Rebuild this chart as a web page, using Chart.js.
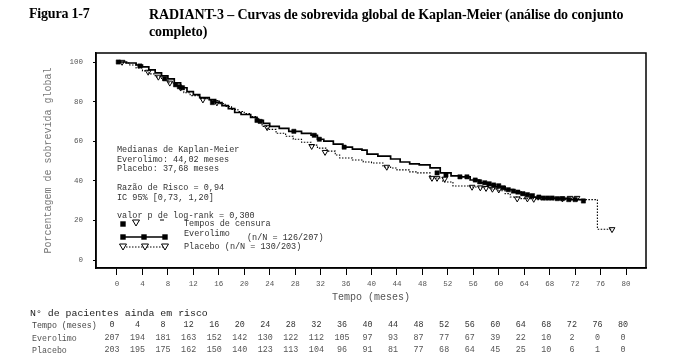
<!DOCTYPE html>
<html><head><meta charset="utf-8">
<script src="https://cdn.jsdelivr.net/npm/chart.js@4"></script>
<style>
body{margin:0;background:#fff;}
#wrap{position:relative;width:676px;height:364px;overflow:hidden;}
#c{position:absolute;left:0;top:0;}
.t{position:absolute;white-space:nowrap;}
#fig{left:29px;top:6px;font:bold 14px "Liberation Serif";color:#000;letter-spacing:-0.2px;}
#ttl{left:149px;top:6px;font:bold 14px "Liberation Serif";color:#000;line-height:17px;letter-spacing:-0.1px;}
.mono{font-family:"Liberation Mono",monospace;}
</style></head>
<body><div id="wrap">
<canvas id="c" width="676" height="364"></canvas>
<div class="t" id="fig">Figura 1-7</div>
<div class="t" id="ttl">RADIANT-3 – Curvas de sobrevida global de Kaplan-Meier (análise do conjunto<br>completo)</div>
</div>
<script>
// ---- data ----
const xTicks = [0,4,8,12,16,20,24,28,32,36,40,44,48,52,56,60,64,68,72,76,80];
const yTicks = [0,20,40,60,80,100];
const evoT = [0,1.5,3,4,5,6,7,8,9,10,11,12,13,14.5,15.5,16.5,17.5,18.5,19.5,21,22,23,24,25.5,27,29,30.5,31.5,32.5,34,35.5,37,38.5,39.3,41,43,44.5,46,47.5,49.2,50.8,52.5,54,55.5,57,58.2,59.5,61,62.3,63.5,65,67,69,71,73.5];
const evoS = [100,99.5,98.5,97.5,96,94.5,93,91.5,89.5,87,85,83.5,82,81,79.5,78,76.5,74.5,73.5,72,70.5,69,67.5,66.5,65,64,63,61,60,58.5,57,56,55.5,53.5,52.5,51,49.5,48.5,48,46.5,44,42.5,42,40.4,39,37.9,37,35.5,34.3,33,31.8,31.3,31,30.5,29.8];
const plaT = [0,1,2,3,4,5,6,7,8,9,10,10.5,11.5,13,14.5,16,17,18,19,20,21,22,22.8,23.6,25,26.5,27.7,29,30.5,31.5,33,34.3,35,37,38.7,40,41.8,43,44,46,47.2,49.2,51.2,52.8,55.5,58.6,60,61,61.8,63.5,66,75.5,77.8];
const plaS = [100,99.5,98.5,97,95.5,94,92.5,91,89.5,88,86.5,84.5,83,81.5,80.5,79,77.5,76,75,74,72.5,70,67.5,66,64,62.5,61,59.5,58,56.5,55,53,51.5,50.5,49.5,49,47,46.5,45.5,44.5,44,41.4,39.4,37.4,36.9,35.9,35,33.5,31.8,31,30.5,15.5,15.5];
const evoCensT = [0.2,3.6,7.5,9.2,9.8,10.3,15,22,22.5,27.8,31,31.8,35.7,50.3,51.7,53.9,55,56.3,57,57.8,58.5,59.2,60,60.7,61.5,62.3,63,63.8,64.5,65.3,66.3,67,67.7,68.4,69.2,70,71,72,73.3];
const evoCensS = [100,98,91.5,88.5,87.5,87,79.5,70.5,70,65,63,61,57,44,43,42,42,40.4,39.5,39,38.5,37.9,37.5,36.5,35.5,34.8,34.3,33.5,33,32.5,31.8,31.3,31.3,31.3,31,31,30.5,30.5,29.8];
const plaCensT = [0.8,4.9,6.5,8.3,10,13.5,15.7,23.6,30.6,32.7,42.4,49.5,50.3,51.5,55.8,57.1,58,59,60,62.9,64.5,65.5,70,71.2,72.3,77.8];
const plaCensS = [100,95,92.5,89.5,87,81,79.5,67,57.5,54.5,47,41.4,41.4,41,36.9,36.6,36.3,35.9,35.5,31,31,30.8,31,31.3,31.3,15.5];
const riskTimes = [0,4,8,12,16,20,24,28,32,36,40,44,48,52,56,60,64,68,72,76,80];
const riskEvo = [207,194,181,163,152,142,130,122,112,105,97,93,87,77,67,39,22,10,2,0,0];
const riskPla = [203,195,175,162,150,140,123,113,104,96,91,81,77,68,64,45,25,10,6,1,0];
const notes = ["Medianas de Kaplan-Meier","Everolimo: 44,02 meses","Placebo: 37,68 meses","Razão de Risco = 0,94","IC 95% [0,73, 1,20]","valor p de log-rank = 0,300"];

// ---- risk table (DOM text) ----
const wrap = document.getElementById('wrap');
function addText(txt, x, y, css, center){
  const d = document.createElement('div');
  d.className = 't mono';
  d.textContent = txt;
  d.style.cssText += css;
  d.style.left = x + 'px';
  d.style.top = y + 'px';
  d.style.transform = center ? 'translate(-50%,-50%)' : 'translateY(-50%)';
  wrap.appendChild(d);
}
addText('N° de pacientes ainda em risco', 30, 313, 'font-size:9.9px;color:#222;', false);
addText('Tempo (meses)', 32, 325, 'font-size:8.3px;color:#444;', false);
addText('Everolimo', 32, 338, 'font-size:8.3px;color:#555;', false);
addText('Placebo', 32, 350, 'font-size:8.3px;color:#555;', false);
riskTimes.forEach((t,i)=>{
  const cx = 112 + i*25.55;
  addText(String(t), cx, 325, 'font-size:8.4px;color:#333;', true);
  addText(String(riskEvo[i]), cx, 338, 'font-size:8.4px;color:#555;', true);
  addText(String(riskPla[i]), cx, 350, 'font-size:8.4px;color:#555;', true);
});

// ---- chart ----
const pts = (xs, ys) => xs.map((x,i)=>({x, y: ys[i]}));
const mono = '"Liberation Mono", monospace';

const boxPlugin = {
  id: 'box',
  afterDraw(chart){
    const {ctx, chartArea:a} = chart;
    ctx.save();
    ctx.strokeStyle = '#000';
    ctx.lineWidth = 1.5;
    ctx.strokeRect(a.left, a.top, a.right - a.left, a.bottom - a.top);
    ctx.fillStyle = '#333';
    ctx.font = '8.5px ' + mono;
    ctx.textBaseline = 'middle';
    const ys = [150,160,169,188,198,216];
    notes.forEach((n,i)=>ctx.fillText(n, 117, ys[i]));
    ctx.fillText('Tempos de censura', 184, 224);
    ctx.fillText('Everolimo', 184, 234);
    ctx.fillText('(n/N = 126/207)', 247, 238);
    ctx.fillText('Placebo (n/N = 130/203)', 184, 247);
    const sq = (x,y)=>{ctx.fillStyle='#000'; ctx.fillRect(x-2.7,y-2.7,5.4,5.4);};
    const tri = (x,y)=>{ctx.beginPath(); ctx.moveTo(x-3.5,y-3); ctx.lineTo(x+3.5,y-3); ctx.lineTo(x,y+3); ctx.closePath(); ctx.fillStyle='#fff'; ctx.fill(); ctx.strokeStyle='#000'; ctx.lineWidth=1; ctx.stroke();};
    sq(123,224); tri(136,223);
    ctx.strokeStyle='#000'; ctx.lineWidth=1;
    ctx.beginPath(); ctx.moveTo(160,220); ctx.lineTo(164,220); ctx.stroke();
    ctx.lineWidth=1.6;
    ctx.beginPath(); ctx.moveTo(123,237); ctx.lineTo(165,237); ctx.stroke();
    sq(123,237); sq(144,237); sq(165,237);
    ctx.lineWidth=1; ctx.setLineDash([1.5,1.5]);
    ctx.beginPath(); ctx.moveTo(123,247); ctx.lineTo(165,247); ctx.stroke();
    ctx.setLineDash([]);
    tri(123,247); tri(145,247); tri(165,247);
    ctx.restore();
  }
};

new Chart(document.getElementById('c'), {
  type: 'scatter',
  data: { datasets: [
    { data: pts(evoT, evoS), showLine: true, stepped: true, borderColor: '#000', borderWidth: 1.7, pointRadius: 0 },
    { data: pts(plaT, plaS), showLine: true, stepped: true, borderColor: '#000', borderWidth: 1.1, borderDash: [1.5,1.5], pointRadius: 0 },
    { data: pts(evoCensT, evoCensS), showLine: false, pointStyle: 'rect', pointRadius: 3, backgroundColor: '#000', borderColor: '#000', borderWidth: 0.5 },
    { data: pts(plaCensT, plaCensS), showLine: false, pointStyle: 'triangle', rotation: 180, pointRadius: 3.3, backgroundColor: '#fff', borderColor: '#000', borderWidth: 1 }
  ]},
  options: {
    responsive: false, animation: false, devicePixelRatio: 1,
    layout: { padding: { top: 53, right: 30, left: 0, bottom: 0 } },
    plugins: { legend: { display: false }, tooltip: { enabled: false } },
    scales: {
      x: {
        type: 'linear', min: -3.30, max: 83.14,
        afterFit: s => { s.height = 96; },
        afterBuildTicks: s => { s.ticks = xTicks.map(v=>({value:v})); },
        grid: { drawOnChartArea: false, drawTicks: true, tickLength: 7, color: '#000', lineWidth: 1 },
        border: { display: true, color: '#000', width: 1.5 },
        ticks: { padding: 5, color: '#555', font: { family: mono, size: 7.5 }, maxRotation: 0, autoSkip: false },
        title: { display: true, text: 'Tempo (meses)', color: '#555', font: { family: mono, size: 10 }, padding: { top: 0, bottom: 61 } }
      },
      y: {
        type: 'linear', min: -4.04, max: 104.55,
        afterFit: s => { s.width = 96; },
        afterBuildTicks: s => { s.ticks = yTicks.map(v=>({value:v})); },
        grid: { drawOnChartArea: false, drawTicks: true, tickLength: 3, color: '#000', lineWidth: 1 },
        border: { display: true, color: '#000', width: 1.5 },
        ticks: { padding: 10, color: '#555', font: { family: mono, size: 7.5 }, autoSkip: false },
        title: { display: true, text: 'Porcentagem de sobrevida global', color: '#777', font: { family: mono, size: 10 }, padding: { top: 42, bottom: 0 } }
      }
    }
  },
  plugins: [boxPlugin]
});
</script>
</body></html>
